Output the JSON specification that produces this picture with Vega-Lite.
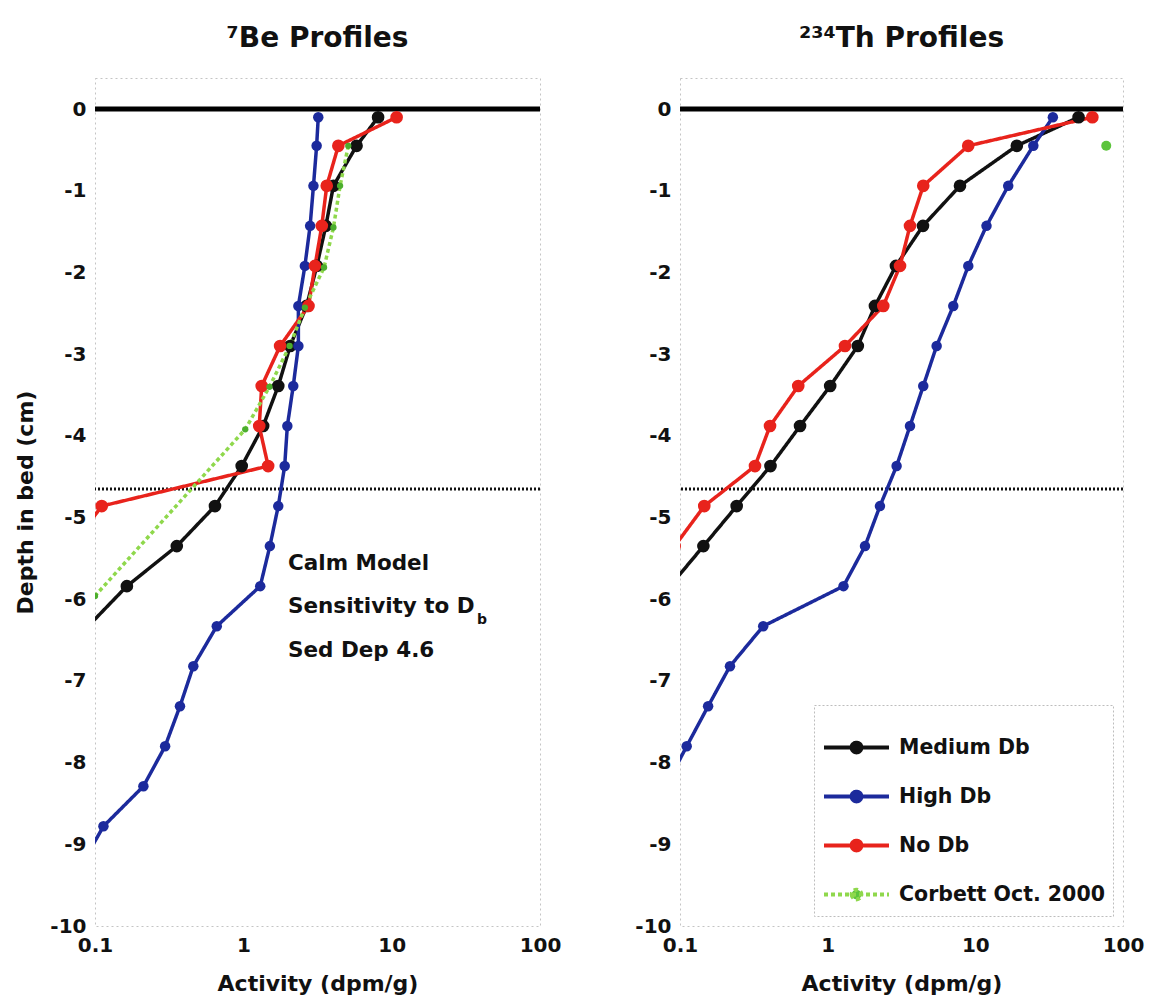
{
  "$schema": "https://vega.github.io/schema/vega-lite/v6.json",
  "background": "white",
  "padding": {"left": 14, "top": 24, "right": 5, "bottom": 5},
  "spacing": 140,
  "bounds": "flush",
  "config": {
    "font": "DejaVu Sans",
    "view": {"stroke": "#c4c4c4", "strokeDash": [2, 3], "strokeWidth": 1},
    "axis": {"labelFont": "DejaVu Sans", "labelFontSize": 20, "labelFontWeight": "bold", "labelColor": "#111", "titleFont": "DejaVu Sans", "titleFontSize": 22, "titleFontWeight": "bold", "titleColor": "#111", "grid": false, "domain": false, "ticks": false, "labelPadding": 9},
    "title": {"font": "DejaVu Sans", "fontSize": 28, "fontWeight": "bold", "color": "#111", "offset": 25},
    "legend": {"strokeDash": [2, 2]}
  },
  "resolve": {
    "scale": {"stroke": "independent", "strokeDash": "independent", "fill": "independent"},
    "legend": {"stroke": "independent", "strokeDash": "independent", "fill": "independent"}
  },
  "datasets": {
    "profiles": [
      {"panel": "Be", "series": "Medium Db", "depth": -0.1, "activity": 8.1},
      {"panel": "Be", "series": "Medium Db", "depth": -0.45, "activity": 5.8},
      {"panel": "Be", "series": "Medium Db", "depth": -0.94, "activity": 4.05},
      {"panel": "Be", "series": "Medium Db", "depth": -1.43, "activity": 3.6},
      {"panel": "Be", "series": "Medium Db", "depth": -1.92, "activity": 3.13},
      {"panel": "Be", "series": "Medium Db", "depth": -2.41, "activity": 2.67},
      {"panel": "Be", "series": "Medium Db", "depth": -2.9, "activity": 2.07},
      {"panel": "Be", "series": "Medium Db", "depth": -3.39, "activity": 1.72},
      {"panel": "Be", "series": "Medium Db", "depth": -3.88, "activity": 1.36},
      {"panel": "Be", "series": "Medium Db", "depth": -4.37, "activity": 0.975},
      {"panel": "Be", "series": "Medium Db", "depth": -4.86, "activity": 0.644},
      {"panel": "Be", "series": "Medium Db", "depth": -5.35, "activity": 0.356},
      {"panel": "Be", "series": "Medium Db", "depth": -5.84, "activity": 0.164},
      {"panel": "Be", "series": "Medium Db", "depth": -6.33, "activity": 0.09},
      {"panel": "Be", "series": "High Db", "depth": -0.1, "activity": 3.2},
      {"panel": "Be", "series": "High Db", "depth": -0.45, "activity": 3.12},
      {"panel": "Be", "series": "High Db", "depth": -0.94, "activity": 2.97},
      {"panel": "Be", "series": "High Db", "depth": -1.43, "activity": 2.82},
      {"panel": "Be", "series": "High Db", "depth": -1.92, "activity": 2.6},
      {"panel": "Be", "series": "High Db", "depth": -2.41, "activity": 2.35},
      {"panel": "Be", "series": "High Db", "depth": -2.9, "activity": 2.35},
      {"panel": "Be", "series": "High Db", "depth": -3.39, "activity": 2.17},
      {"panel": "Be", "series": "High Db", "depth": -3.88, "activity": 1.98},
      {"panel": "Be", "series": "High Db", "depth": -4.37, "activity": 1.9},
      {"panel": "Be", "series": "High Db", "depth": -4.86, "activity": 1.72},
      {"panel": "Be", "series": "High Db", "depth": -5.35, "activity": 1.51},
      {"panel": "Be", "series": "High Db", "depth": -5.84, "activity": 1.3},
      {"panel": "Be", "series": "High Db", "depth": -6.33, "activity": 0.662},
      {"panel": "Be", "series": "High Db", "depth": -6.82, "activity": 0.46},
      {"panel": "Be", "series": "High Db", "depth": -7.31, "activity": 0.374},
      {"panel": "Be", "series": "High Db", "depth": -7.8, "activity": 0.297},
      {"panel": "Be", "series": "High Db", "depth": -8.29, "activity": 0.212},
      {"panel": "Be", "series": "High Db", "depth": -8.78, "activity": 0.114},
      {"panel": "Be", "series": "High Db", "depth": -9.27, "activity": 0.08},
      {"panel": "Be", "series": "No Db", "depth": -0.1, "activity": 10.8},
      {"panel": "Be", "series": "No Db", "depth": -0.45, "activity": 4.37},
      {"panel": "Be", "series": "No Db", "depth": -0.94, "activity": 3.65},
      {"panel": "Be", "series": "No Db", "depth": -1.43, "activity": 3.38},
      {"panel": "Be", "series": "No Db", "depth": -1.92, "activity": 3.04},
      {"panel": "Be", "series": "No Db", "depth": -2.41, "activity": 2.75},
      {"panel": "Be", "series": "No Db", "depth": -2.9, "activity": 1.77},
      {"panel": "Be", "series": "No Db", "depth": -3.39, "activity": 1.33},
      {"panel": "Be", "series": "No Db", "depth": -3.88, "activity": 1.28},
      {"panel": "Be", "series": "No Db", "depth": -4.37, "activity": 1.47},
      {"panel": "Be", "series": "No Db", "depth": -4.86, "activity": 0.111},
      {"panel": "Be", "series": "No Db", "depth": -5.35, "activity": 0.07},
      {"panel": "Be", "series": "Corbett Oct. 2000", "depth": -0.45, "activity": 5.1},
      {"panel": "Be", "series": "Corbett Oct. 2000", "depth": -0.94, "activity": 4.49},
      {"panel": "Be", "series": "Corbett Oct. 2000", "depth": -1.45, "activity": 4.05},
      {"panel": "Be", "series": "Corbett Oct. 2000", "depth": -1.94, "activity": 3.5},
      {"panel": "Be", "series": "Corbett Oct. 2000", "depth": -2.43, "activity": 2.6},
      {"panel": "Be", "series": "Corbett Oct. 2000", "depth": -2.9, "activity": 2.05},
      {"panel": "Be", "series": "Corbett Oct. 2000", "depth": -3.4, "activity": 1.5},
      {"panel": "Be", "series": "Corbett Oct. 2000", "depth": -3.92, "activity": 1.03},
      {"panel": "Be", "series": "Corbett Oct. 2000", "depth": -5.96, "activity": 0.1},
      {"panel": "Th", "series": "Medium Db", "depth": -0.1, "activity": 50},
      {"panel": "Th", "series": "Medium Db", "depth": -0.45, "activity": 19.1},
      {"panel": "Th", "series": "Medium Db", "depth": -0.94, "activity": 7.87},
      {"panel": "Th", "series": "Medium Db", "depth": -1.43, "activity": 4.42},
      {"panel": "Th", "series": "Medium Db", "depth": -1.92, "activity": 2.9},
      {"panel": "Th", "series": "Medium Db", "depth": -2.41, "activity": 2.09},
      {"panel": "Th", "series": "Medium Db", "depth": -2.9, "activity": 1.6},
      {"panel": "Th", "series": "Medium Db", "depth": -3.39, "activity": 1.04},
      {"panel": "Th", "series": "Medium Db", "depth": -3.88, "activity": 0.65},
      {"panel": "Th", "series": "Medium Db", "depth": -4.37, "activity": 0.41},
      {"panel": "Th", "series": "Medium Db", "depth": -4.86, "activity": 0.242},
      {"panel": "Th", "series": "Medium Db", "depth": -5.35, "activity": 0.144},
      {"panel": "Th", "series": "Medium Db", "depth": -5.84, "activity": 0.0855},
      {"panel": "Th", "series": "High Db", "depth": -0.1, "activity": 33.5},
      {"panel": "Th", "series": "High Db", "depth": -0.45, "activity": 24.7},
      {"panel": "Th", "series": "High Db", "depth": -0.94, "activity": 16.7},
      {"panel": "Th", "series": "High Db", "depth": -1.43, "activity": 11.9},
      {"panel": "Th", "series": "High Db", "depth": -1.92, "activity": 8.96},
      {"panel": "Th", "series": "High Db", "depth": -2.41, "activity": 7.09},
      {"panel": "Th", "series": "High Db", "depth": -2.9, "activity": 5.47},
      {"panel": "Th", "series": "High Db", "depth": -3.39, "activity": 4.44},
      {"panel": "Th", "series": "High Db", "depth": -3.88, "activity": 3.61},
      {"panel": "Th", "series": "High Db", "depth": -4.37, "activity": 2.93},
      {"panel": "Th", "series": "High Db", "depth": -4.86, "activity": 2.26},
      {"panel": "Th", "series": "High Db", "depth": -5.35, "activity": 1.79},
      {"panel": "Th", "series": "High Db", "depth": -5.84, "activity": 1.28},
      {"panel": "Th", "series": "High Db", "depth": -6.33, "activity": 0.366},
      {"panel": "Th", "series": "High Db", "depth": -6.82, "activity": 0.218},
      {"panel": "Th", "series": "High Db", "depth": -7.31, "activity": 0.155},
      {"panel": "Th", "series": "High Db", "depth": -7.8, "activity": 0.111},
      {"panel": "Th", "series": "High Db", "depth": -8.29, "activity": 0.08},
      {"panel": "Th", "series": "No Db", "depth": -0.1, "activity": 62},
      {"panel": "Th", "series": "No Db", "depth": -0.45, "activity": 8.95},
      {"panel": "Th", "series": "No Db", "depth": -0.94, "activity": 4.44},
      {"panel": "Th", "series": "No Db", "depth": -1.43, "activity": 3.61},
      {"panel": "Th", "series": "No Db", "depth": -1.92, "activity": 3.09},
      {"panel": "Th", "series": "No Db", "depth": -2.41, "activity": 2.38},
      {"panel": "Th", "series": "No Db", "depth": -2.9, "activity": 1.31},
      {"panel": "Th", "series": "No Db", "depth": -3.39, "activity": 0.632},
      {"panel": "Th", "series": "No Db", "depth": -3.88, "activity": 0.407},
      {"panel": "Th", "series": "No Db", "depth": -4.37, "activity": 0.322},
      {"panel": "Th", "series": "No Db", "depth": -4.86, "activity": 0.146},
      {"panel": "Th", "series": "No Db", "depth": -5.35, "activity": 0.092},
      {"panel": "Th", "series": "Corbett Oct. 2000", "depth": -0.45, "activity": 77}
    ]
  },
  "hconcat": [
    {
      "width": 445,
      "height": 848,
      "title": {"text": "⁷Be Profiles"},
      "layer": [
        {
          "data": {"values": [{}]},
          "mark": {"type": "rule", "color": "#000", "strokeWidth": 5},
          "encoding": {"y": {"datum": 0, "type": "quantitative"}}
        },
        {
          "data": {"values": [{}]},
          "mark": {"type": "rule", "color": "#111", "strokeWidth": 3, "strokeDash": [2, 2]},
          "encoding": {"y": {"datum": -4.65, "type": "quantitative"}}
        },
        {
          "data": {"name": "profiles"},
          "transform": [{"filter": "datum.panel === 'Be'"}],
          "mark": {"type": "line", "clip": true, "strokeWidth": 3.5},
          "encoding": {
            "x": {"field": "activity", "type": "quantitative", "scale": {"type": "log", "domain": [0.1, 100], "nice": false}, "axis": {"title": "Activity (dpm/g)", "values": [0.1, 1, 10, 100], "labelExpr": "toString(datum.value)", "labelFlush": false, "titlePadding": 18}},
            "y": {"field": "depth", "type": "quantitative", "scale": {"domain": [-10, 0.38], "nice": false, "zero": false}, "axis": {"title": "Depth in bed (cm)", "values": [-10, -9, -8, -7, -6, -5, -4, -3, -2, -1, 0], "labelExpr": "toString(datum.value)", "titlePadding": 12}},
            "stroke": {"field": "series", "type": "nominal", "scale": {"domain": ["Medium Db", "High Db", "No Db", "Corbett Oct. 2000"], "range": ["#111111", "#1c2a9c", "#e8231c", "#8fd84c"]}, "legend": null},
            "strokeDash": {"field": "series", "type": "nominal", "scale": {"domain": ["Medium Db", "High Db", "No Db", "Corbett Oct. 2000"], "range": [[1, 0], [1, 0], [1, 0], [4, 3]]}, "legend": null},
            "order": {"field": "depth", "sort": "descending"}
          }
        },
        {
          "data": {"name": "profiles"},
          "transform": [{"filter": "datum.panel === 'Be'"}],
          "mark": {"type": "point", "filled": true, "opacity": 1, "clip": true, "shape": "circle"},
          "encoding": {
            "x": {"field": "activity", "type": "quantitative", "scale": {"type": "log", "domain": [0.1, 100], "nice": false}},
            "y": {"field": "depth", "type": "quantitative", "scale": {"domain": [-10, 0.38], "nice": false, "zero": false}},
            "fill": {"field": "series", "type": "nominal", "scale": {"domain": ["Medium Db", "High Db", "No Db", "Corbett Oct. 2000"], "range": ["#111111", "#1c2a9c", "#e8231c", "#4cae2e"]}, "legend": null},
            "size": {"condition": [{"test": "datum.series === 'Corbett Oct. 2000'", "value": 40}, {"test": "datum.series === 'High Db'", "value": 110}], "value": 160}
          }
        },
        {
          "data": {"values": [{}]},
          "mark": {"type": "text", "text": "Calm Model", "align": "left", "baseline": "middle", "fontSize": 21.5, "fontWeight": "bold", "color": "#111"},
          "encoding": {"x": {"datum": 2.0, "type": "quantitative"}, "y": {"datum": -5.57, "type": "quantitative"}}
        },
        {
          "data": {"values": [{}]},
          "mark": {"type": "text", "text": "Sensitivity to D", "align": "left", "baseline": "middle", "fontSize": 21.5, "fontWeight": "bold", "color": "#111"},
          "encoding": {"x": {"datum": 2.0, "type": "quantitative"}, "y": {"datum": -6.1, "type": "quantitative"}}
        },
        {
          "data": {"values": [{}]},
          "mark": {"type": "text", "text": "b", "align": "left", "baseline": "middle", "fontSize": 14, "fontWeight": "bold", "color": "#111", "dx": 189, "dy": 13},
          "encoding": {"x": {"datum": 2.0, "type": "quantitative"}, "y": {"datum": -6.1, "type": "quantitative"}}
        },
        {
          "data": {"values": [{}]},
          "mark": {"type": "text", "text": "Sed Dep 4.6", "align": "left", "baseline": "middle", "fontSize": 21.5, "fontWeight": "bold", "color": "#111"},
          "encoding": {"x": {"datum": 2.0, "type": "quantitative"}, "y": {"datum": -6.63, "type": "quantitative"}}
        }
      ]
    },
    {
      "width": 443,
      "height": 848,
      "title": {"text": "²³⁴Th Profiles"},
      "layer": [
        {
          "data": {"values": [{}]},
          "mark": {"type": "rule", "color": "#000", "strokeWidth": 5},
          "encoding": {"y": {"datum": 0, "type": "quantitative"}}
        },
        {
          "data": {"values": [{}]},
          "mark": {"type": "rule", "color": "#111", "strokeWidth": 3, "strokeDash": [2, 2]},
          "encoding": {"y": {"datum": -4.65, "type": "quantitative"}}
        },
        {
          "data": {"name": "profiles"},
          "transform": [{"filter": "datum.panel === 'Th'"}],
          "mark": {"type": "line", "clip": true, "strokeWidth": 3.5},
          "encoding": {
            "x": {"field": "activity", "type": "quantitative", "scale": {"type": "log", "domain": [0.1, 100], "nice": false}, "axis": {"title": "Activity (dpm/g)", "values": [0.1, 1, 10, 100], "labelExpr": "toString(datum.value)", "labelFlush": false, "titlePadding": 18}},
            "y": {"field": "depth", "type": "quantitative", "scale": {"domain": [-10, 0.38], "nice": false, "zero": false}, "axis": {"title": null, "values": [-10, -9, -8, -7, -6, -5, -4, -3, -2, -1, 0], "labelExpr": "toString(datum.value)"}},
            "stroke": {"field": "series", "type": "nominal", "scale": {"domain": ["Medium Db", "High Db", "No Db", "Corbett Oct. 2000"], "range": ["#111111", "#1c2a9c", "#e8231c", "#8fd84c"]}, "legend": {"orient": "bottom-right", "offset": 10, "title": null, "symbolType": "M-1,0H1M-0.15,0A0.15,0.15 0 1,0 0.15,0A0.15,0.15 0 1,0 -0.15,0", "symbolSize": 4225, "symbolStrokeWidth": 4, "labelFont": "DejaVu Sans", "labelFontSize": 20.5, "labelFontWeight": "bold", "labelColor": "#111", "labelOffset": 8, "labelLimit": 400, "rowPadding": 1, "padding": 8, "strokeColor": "#bdbdbd", "fillColor": "white"}},
            "strokeDash": {"field": "series", "type": "nominal", "scale": {"domain": ["Medium Db", "High Db", "No Db", "Corbett Oct. 2000"], "range": [[1, 0], [1, 0], [1, 0], [4, 3]]}, "legend": {"orient": "bottom-right", "offset": 10, "title": null, "symbolType": "M-1,0H1M-0.15,0A0.15,0.15 0 1,0 0.15,0A0.15,0.15 0 1,0 -0.15,0", "symbolSize": 4225, "symbolStrokeWidth": 4, "labelFont": "DejaVu Sans", "labelFontSize": 20.5, "labelFontWeight": "bold", "labelColor": "#111", "labelOffset": 8, "labelLimit": 400, "rowPadding": 1, "padding": 8, "strokeColor": "#bdbdbd", "fillColor": "white"}},
            "order": {"field": "depth", "sort": "descending"}
          }
        },
        {
          "data": {"name": "profiles"},
          "transform": [{"filter": "datum.panel === 'Th'"}],
          "mark": {"type": "point", "filled": true, "opacity": 1, "clip": true, "shape": "circle"},
          "encoding": {
            "x": {"field": "activity", "type": "quantitative", "scale": {"type": "log", "domain": [0.1, 100], "nice": false}},
            "y": {"field": "depth", "type": "quantitative", "scale": {"domain": [-10, 0.38], "nice": false, "zero": false}},
            "fill": {"field": "series", "type": "nominal", "scale": {"domain": ["Medium Db", "High Db", "No Db", "Corbett Oct. 2000"], "range": ["#111111", "#1c2a9c", "#e8231c", "#5cc43c"]}, "legend": null},
            "size": {"condition": [{"test": "datum.series === 'High Db'", "value": 110}, {"test": "datum.series === 'Corbett Oct. 2000'", "value": 100}], "value": 160}
          }
        }
      ]
    }
  ]
}
